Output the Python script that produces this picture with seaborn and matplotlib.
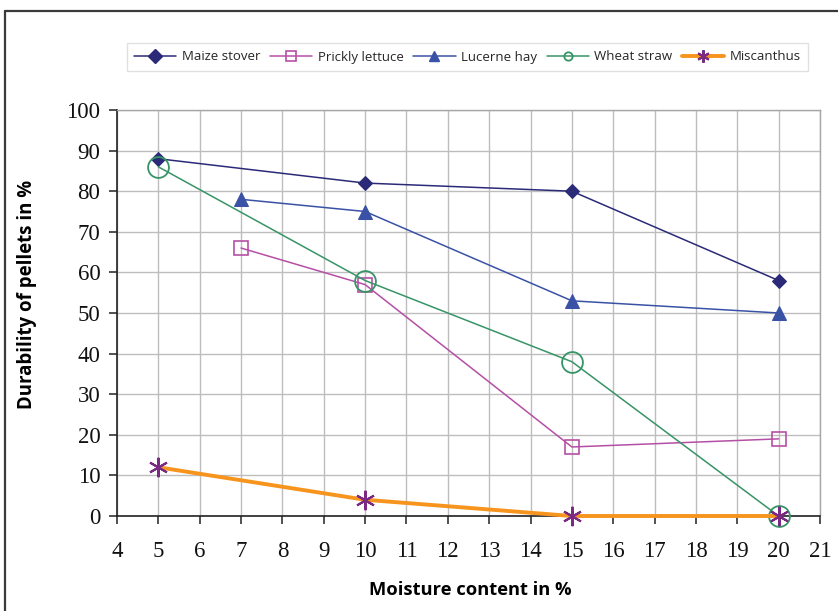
import matplotlib
matplotlib.use("Agg")
import matplotlib.pyplot as plt
import seaborn as sns
import pandas as pd
from matplotlib.lines import Line2D

# ---- data ----
maize_x = [5, 10, 15, 20]
maize_y = [88, 82, 80, 58]
lettuce_x = [7, 10, 15, 20]
lettuce_y = [66, 57, 17, 19]
lucerne_x = [7, 10, 15, 20]
lucerne_y = [78, 75, 53, 50]
wheat_x = [5, 10, 15, 20]
wheat_y = [86, 58, 38, 0]
misc_x = [5, 10, 15, 20]
misc_y = [12, 4, 0, 0]

series_names = ["Maize stover", "Prickly lettuce", "Lucerne hay", "Wheat straw", "Miscanthus"]
x_ticks = list(range(4, 22))
y_ticks = list(range(0, 101, 10))

sns.set_theme(style="white")
plt.rcParams["font.family"] = ["DejaVu Sans"]

W, H = 838, 611
fig = plt.figure(figsize=(W / 100, H / 100), dpi=100)
ax = fig.add_axes([117 / W, 1 - 516 / H, (820 - 117) / W, (516 - 110) / H])

styles = [
    dict(color="#2B2A78", marker="D", markersize=7.5, markerfacecolor="#2B2A78",
         markeredgecolor="#2B2A78", linewidth=1.1),
    dict(color="#B54FA5", marker="s", markersize=9.5, markerfacecolor="none",
         markeredgecolor="#B54FA5", markeredgewidth=1.2, linewidth=1.1),
    dict(color="#3A52A6", marker="^", markersize=10, markerfacecolor="#3A52A6",
         markeredgecolor="#3A52A6", linewidth=1.1),
    dict(color="#379467", marker="o", markersize=15, markerfacecolor="none",
         markeredgecolor="#379467", markeredgewidth=1.3, linewidth=1.1),
    dict(color="#F7941D", marker=(6, 2, 0), markersize=14, markerfacecolor="#7A2A82",
         markeredgecolor="#7A2A82", markeredgewidth=1.5, linewidth=2.8),
]
data = [(maize_x, maize_y), (lettuce_x, lettuce_y), (lucerne_x, lucerne_y),
        (wheat_x, wheat_y), (misc_x, misc_y)]

handles = []
for name, (xs, ys), st in zip(series_names, data, styles):
    df = pd.DataFrame({"x": xs, "y": ys})
    sns.lineplot(data=df, x="x", y="y", ax=ax, legend=False, zorder=3, clip_on=False, **st)
    hst = dict(st)
    hst["markersize"] = min(st["markersize"], 7) if st["marker"] != "o" else 6
    if name == "Miscanthus":
        hst["markersize"] = 9
    handles.append(Line2D([], [], label=name, **hst))

ax.set_xlim(4, 21)
ax.set_ylim(0, 100)
ax.set_xticks(x_ticks)
ax.set_yticks(y_ticks)
ax.grid(True, color="#BDBDBD", linewidth=1.0)
ax.set_axisbelow(True)

for s in ["top", "right"]:
    ax.spines[s].set_color("#A6A6A6")
    ax.spines[s].set_linewidth(1.0)
for s in ["left", "bottom"]:
    ax.spines[s].set_color("#222222")
    ax.spines[s].set_linewidth(1.2)

ax.tick_params(axis="both", which="major", direction="out", length=6, width=1.1,
               color="#222222", labelsize=16.5)
ax.tick_params(axis="y", pad=6, left=True)
ax.tick_params(axis="x", pad=12, bottom=True)
for lab in ax.get_xticklabels() + ax.get_yticklabels():
    lab.set_fontfamily("Liberation Serif")
    lab.set_color("#111111")

ax.set_xlabel("Moisture content in %", fontsize=13.2, fontweight="bold",
              fontfamily="Open Sans", color="black")
ax.set_ylabel("Durability of pellets in %", fontsize=13.4, fontweight="bold",
              fontfamily="Open Sans", color="black")
ax.xaxis.set_label_coords((470 - 117) / (820 - 117), -(581 - 516) / (516 - 110))
ax.yaxis.set_label_coords(-(117 - 37) / (820 - 117), (516 - 294) / (516 - 110))

leg = fig.legend(handles=handles, loc="center", bbox_to_anchor=(467.5 / W, 1 - 57 / H),
                 ncol=5, frameon=True, fancybox=False, edgecolor="#D9D9D9",
                 prop={"family": "Open Sans", "size": 9.5}, handlelength=3.2,
                 columnspacing=0.75, handletextpad=0.4, borderpad=0.55)
leg.get_frame().set_linewidth(1.0)

# outer chart border (cropped at right/bottom)
fig.add_artist(Line2D([5 / W, 1], [1 - 11 / H, 1 - 11 / H], transform=fig.transFigure,
                      color="#3A3A3A", linewidth=1.6))
fig.add_artist(Line2D([5 / W, 5 / W], [0, 1 - 11 / H], transform=fig.transFigure,
                      color="#3A3A3A", linewidth=1.6))

fig.savefig("out.png", dpi=100)
